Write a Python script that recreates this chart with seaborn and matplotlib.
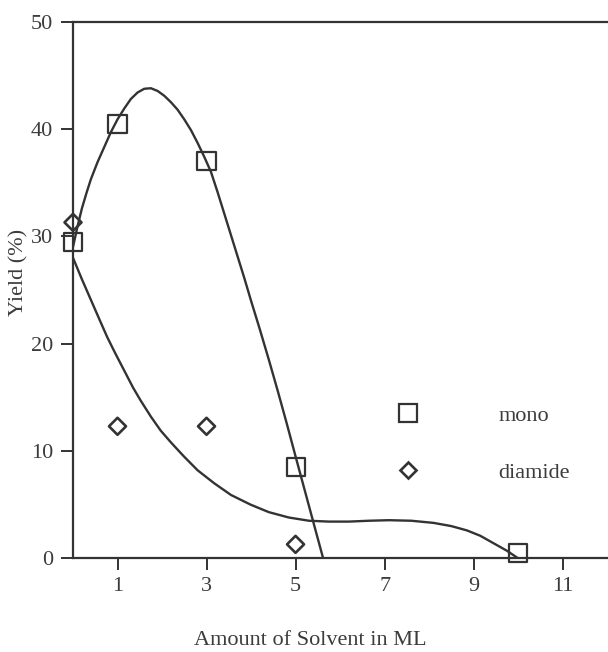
import matplotlib
matplotlib.use("Agg")
import matplotlib.pyplot as plt
from matplotlib.lines import Line2D
import seaborn as sns
import pandas as pd

# ---- data ----
solvent_mono = [0, 1, 3, 5, 10]
yield_mono = [29.5, 40.5, 37.0, 8.5, 0.5]

solvent_diamide = [0, 1, 3, 5]
yield_diamide = [31.3, 12.3, 12.3, 1.3]

# smooth trend curves as drawn in the reference
mono_curve_x = [0, 0.1, 0.2, 0.3, 0.4, 0.55, 0.7, 0.85, 1.0, 1.15, 1.3, 1.45, 1.6, 1.75,
                1.9, 2.05, 2.2, 2.35, 2.5, 2.65, 2.8, 2.95, 3.1, 3.25, 3.4, 3.55, 3.7,
                3.85, 4.0, 4.2, 4.4, 4.6, 4.8, 5.0, 5.15, 5.3, 5.45, 5.62]
mono_curve_y = [29.0, 30.9, 32.6, 34.0, 35.3, 36.9, 38.3, 39.7, 40.9, 41.9, 42.8, 43.4, 43.75, 43.8,
                43.55, 43.1, 42.5, 41.8, 40.9, 39.9, 38.7, 37.4, 36.0, 34.1, 32.1, 30.1, 28.1,
                26.1, 24.0, 21.3, 18.5, 15.6, 12.6, 9.5, 7.2, 4.9, 2.6, 0.0]

diamide_curve_x = [0, 0.2, 0.4, 0.6, 0.77, 0.95, 1.15, 1.35, 1.52, 1.75, 1.97, 2.2, 2.49, 2.8,
                   3.17, 3.55, 3.99, 4.4, 4.85, 5.3, 5.75, 6.2, 6.65, 7.1, 7.6, 8.1, 8.5,
                   8.85, 9.15, 9.45, 9.75, 10.0]
diamide_curve_y = [28.0, 26.0, 24.1, 22.2, 20.6, 19.1, 17.5, 15.9, 14.7, 13.2, 11.9, 10.8, 9.5, 8.2,
                   7.0, 5.9, 5.0, 4.3, 3.8, 3.5, 3.42, 3.42, 3.5, 3.55, 3.5, 3.3, 3.0,
                   2.6, 2.1, 1.4, 0.7, 0.0]

x_ticks = [1, 3, 5, 7, 9, 11]
y_ticks = [0, 10, 20, 30, 40, 50]
series_labels = ["mono", "diamide"]
x_label = "Amount of Solvent in ML"
y_label = "Yield (%)"

# ---- style ----
sns.set_theme(style="ticks")
plt.rcParams["font.family"] = ["Liberation Serif", "DejaVu Serif"]
ink = "#333333"
txt = "#3c3c3c"
fs = 16

fig = plt.figure(figsize=(6.08, 6.52), dpi=100)
ax = fig.add_axes([73 / 608, (652 - 558.3) / 652, 535 / 608, 536.6 / 652])

mono_df = pd.DataFrame({"x": solvent_mono, "y": yield_mono})
dia_df = pd.DataFrame({"x": solvent_diamide, "y": yield_diamide})
mono_c = pd.DataFrame({"x": mono_curve_x, "y": mono_curve_y})
dia_c = pd.DataFrame({"x": diamide_curve_x, "y": diamide_curve_y})

sns.lineplot(data=mono_c, x="x", y="y", sort=False, estimator=None, color=ink, lw=1.7, ax=ax)
sns.lineplot(data=dia_c, x="x", y="y", sort=False, estimator=None, color=ink, lw=1.7, ax=ax)

sns.scatterplot(data=mono_df, x="x", y="y", marker="s", s=169, facecolor="none",
                edgecolor=ink, linewidth=1.6, ax=ax, zorder=3, clip_on=False)
sns.scatterplot(data=dia_df, x="x", y="y", marker="D", s=75, facecolor="none",
                edgecolor=ink, linewidth=1.9, ax=ax, zorder=3, clip_on=False)

ax.set_xlim(0, 12.02)
ax.set_ylim(0, 50)
ax.set_xticks(x_ticks)
ax.set_yticks(y_ticks)
ax.tick_params(axis="both", direction="out", length=8.5, width=1.4, color=ink,
               labelsize=fs, labelcolor=txt)
ax.tick_params(axis="x", pad=5)
ax.tick_params(axis="y", pad=6)

for side in ["left", "bottom", "top"]:
    ax.spines[side].set_color(ink)
    ax.spines[side].set_linewidth(1.6)
ax.spines["right"].set_visible(False)

ax.set_xlabel(x_label, fontsize=fs, color=txt)
ax.set_ylabel(y_label, fontsize=fs, color=txt)
ax.xaxis.set_label_coords((310 - 73) / 535, (558.3 - 631) / 536.6)
ax.yaxis.set_label_coords((28 - 73) / 535, (558.3 - 272) / 536.6)

handles = [
    Line2D([], [], marker="s", markersize=13, markerfacecolor="none", markeredgecolor=ink,
           markeredgewidth=1.6, linestyle="none"),
    Line2D([], [], marker="D", markersize=8.6, markerfacecolor="none", markeredgecolor=ink,
           markeredgewidth=1.9, linestyle="none"),
]
leg = ax.legend(handles, series_labels, loc="upper left",
                bbox_to_anchor=(397 / 608, 1 - 405 / 652), bbox_transform=fig.transFigure,
                frameon=False, fontsize=fs, handlelength=1.0, handletextpad=3.55,
                labelspacing=1.65, borderpad=0, borderaxespad=0)
for t in leg.get_texts():
    t.set_color(txt)

fig.savefig("out.png", dpi=100, facecolor="white")
